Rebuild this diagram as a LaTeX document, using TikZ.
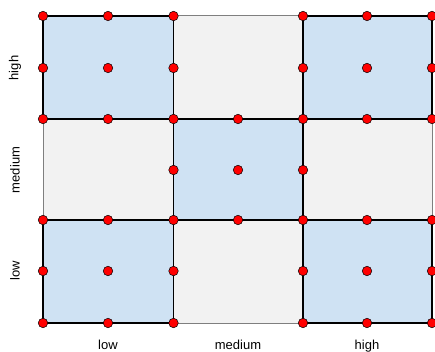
\documentclass[tikz,border=0pt]{standalone}
\usepackage{fontspec}
\setmainfont{Liberation Sans}
\definecolor{cellgrey}{HTML}{F2F2F2}
\definecolor{cellblue}{HTML}{CFE2F3}
\definecolor{edgegrey}{HTML}{7F7F7F}
\begin{document}
\begin{tikzpicture}[x=1pt,y=-1pt,
  greycell/.style={fill=cellgrey,draw=edgegrey,line width=1pt},
  bluecell/.style={fill=cellblue,draw=black,line width=1.1pt},
  pt/.style={circle,fill=red,draw=black,line width=0.5pt,inner sep=0pt,minimum size=9.5pt},
  lab/.style={font=\fontsize{13}{15}\selectfont,inner sep=0pt}]
\useasboundingbox (0,0) rectangle (435,352);
\begin{scope}
\clip (0,0) rectangle (435,352);
% grey cells
\draw[greycell] (173.5,16) rectangle (303,119);
\draw[greycell] (43,119) rectangle (173.5,220);
\draw[greycell] (303,119) rectangle (432,220);
\draw[greycell] (173.5,220) rectangle (303,323);
% blue cells
\draw[bluecell] (43,16) rectangle (173.5,119);
\draw[bluecell] (303,16) rectangle (432,119);
\draw[bluecell] (173.5,119) rectangle (303,220);
\draw[bluecell] (43,220) rectangle (173.5,323);
\draw[bluecell] (303,220) rectangle (432,323);
% dots
\foreach \x/\n in {43/a,108/b,173.5/c,303/e,367/f,432/g}{
  \foreach \y/\m in {16/1,68/2,271/6,323/7}{
    \node[pt] (d\n\m) at (\x,\y) {};
  }
}
\foreach \x/\n in {43/a,108/b,173.5/c,238/d,303/e,367/f,432/g}{
  \foreach \y/\m in {119/3,220/5}{
    \node[pt] (d\n\m) at (\x,\y) {};
  }
}
\foreach \x/\n in {173.5/c,238/d,303/e}{
  \node[pt] (d\n4) at (\x,170) {};
}
\end{scope}
% labels
\node[lab,anchor=base] (xlow) at (108,349) {low};
\node[lab,anchor=base] (xmed) at (238,349) {medium};
\node[lab,anchor=base] (xhigh) at (367,349) {high};
\node[lab,rotate=90] (yhigh) at (15,68) {high};
\node[lab,rotate=90] (ymed) at (15,170) {medium};
\node[lab,rotate=90] (ylow) at (15,271) {low};
\end{tikzpicture}
\end{document}
